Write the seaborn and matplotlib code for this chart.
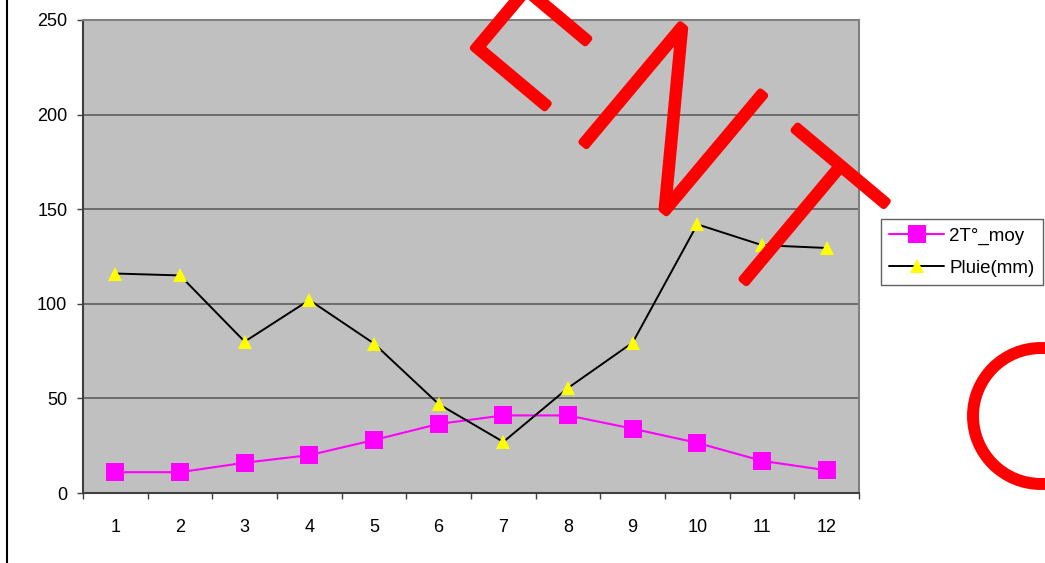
import numpy as np
import pandas as pd
import matplotlib
matplotlib.use("Agg")
import matplotlib.pyplot as plt
import matplotlib.patheffects as pe
import seaborn as sns
from matplotlib.lines import Line2D
from matplotlib.patches import Ellipse

# data
months = list(range(1, 13))
temp_moy = [11, 11, 16, 20, 28, 36.5, 41, 41, 34, 26.5, 17, 12]
pluie_mm = [116, 115, 80, 102, 79, 47, 27, 55.5, 79.5, 142, 131, 129.5]
y_ticks = [0, 50, 100, 150, 200, 250]
watermark = ["E", "N", "T"]

sns.set_style("white")
plt.rcParams["font.family"] = ["Liberation Sans", "DejaVu Sans"]
plt.rcParams["text.color"] = "black"
plt.rcParams["xtick.color"] = "black"
plt.rcParams["ytick.color"] = "black"

W, H = 1045, 563
fig = plt.figure(figsize=(W / 100, H / 100), dpi=100)
ax = fig.add_axes([83 / W, 1 - 493 / H, (859 - 83) / W, (493 - 20) / H])
ax.set_facecolor("#c0c0c0")

df = pd.DataFrame({"mois": months, "2T°_moy": temp_moy, "Pluie(mm)": pluie_mm})

sns.lineplot(data=df, x="mois", y="2T°_moy", ax=ax, color="#ff00ff",
             marker="s", markersize=13, markeredgewidth=0, linewidth=1.5,
             label="2T°_moy")
sns.lineplot(data=df, x="mois", y="Pluie(mm)", ax=ax, color="black",
             marker="^", markersize=10, markerfacecolor="#ffff00",
             markeredgewidth=0, linewidth=1.4, label="Pluie(mm)")

ax.set_xlim(0.5, 12.5)
ax.set_ylim(0, 250)
ax.set_xlabel("")
ax.set_ylabel("")

# tick marks between categories, labels at the centres
ax.set_xticks(np.arange(0.5, 13, 1))
ax.set_xticklabels([])
ax.set_xticks(months, minor=True)
ax.set_xticklabels([str(m) for m in months], minor=True)
ax.tick_params(axis="x", which="major", direction="out", length=4.5,
               width=1, color="#404040", bottom=True)
ax.tick_params(axis="x", which="minor", length=0, pad=19, labelsize=13,
               labelcolor="black")

ax.set_yticks(y_ticks)
ax.tick_params(axis="y", direction="out", length=4.3, width=1,
               color="#404040", left=True, pad=7, labelsize=13,
               labelcolor="black")

ax.set_axisbelow(True)
ax.yaxis.grid(True, color="#555555", linewidth=1.1)
ax.xaxis.grid(False)

for side in ["left", "bottom"]:
    ax.spines[side].set_color("#404040")
    ax.spines[side].set_linewidth(1.5)
for side in ["top", "right"]:
    ax.spines[side].set_color("#808080")
    ax.spines[side].set_linewidth(1.5)

leg = ax.legend(loc="upper left", bbox_to_anchor=(881 / W, 1 - 219 / H),
                bbox_transform=fig.transFigure, borderaxespad=0,
                frameon=True, fancybox=False, framealpha=1,
                edgecolor="#606060", fontsize=13.5, handlelength=2.9,
                handletextpad=0.3, borderpad=0.45, labelspacing=0.8)
leg.get_frame().set_linewidth(1.0)
for t in leg.get_texts():
    t.set_color("black")

# left border of the page
fig.add_artist(Line2D([7 / W, 7 / W], [0, 1], transform=fig.transFigure,
                      color="black", linewidth=1.5))

# red watermark, thin glyphs thickened with a rounded stroke
wm_start = (556, 12)
wm_step = (120, 103.5)
wm_stroke = [pe.Stroke(linewidth=5, foreground="red", capstyle="round",
                       joinstyle="round"), pe.Normal()]
for i, letter in enumerate(watermark):
    px = wm_start[0] + i * wm_step[0]
    py = wm_start[1] + i * wm_step[1]
    fig.text(px / W, 1 - py / H, letter, color="red", fontsize=155,
             family="Roboto", fontweight="light", rotation=-40,
             rotation_mode="anchor", ha="center", va="center_baseline",
             zorder=10, path_effects=wm_stroke)

fig.add_artist(Ellipse((1041 / W, 1 - 416 / H), 136 / W, 136 / H,
                       transform=fig.transFigure, fill=False,
                       edgecolor="red", linewidth=8.6, zorder=10))

fig.savefig("out.png", dpi=100)
